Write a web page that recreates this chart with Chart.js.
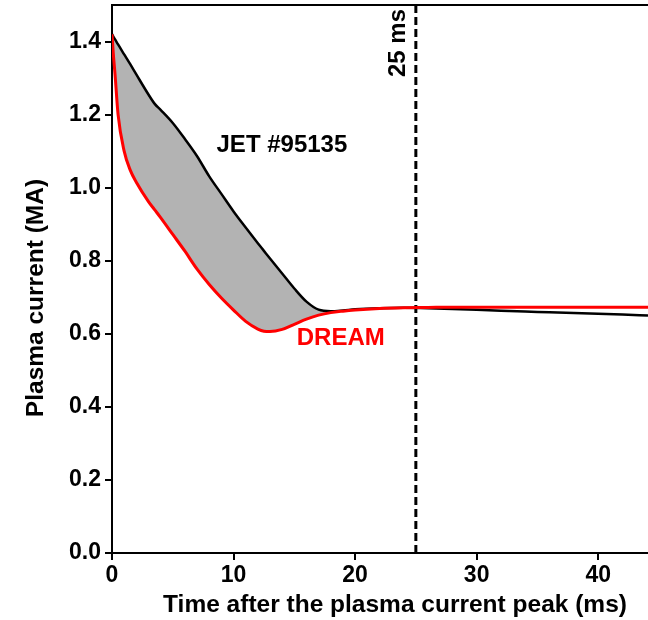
<!DOCTYPE html>
<html>
<head>
<meta charset="utf-8">
<script src="https://cdn.jsdelivr.net/npm/chart.js@4.4.1/dist/chart.umd.min.js"></script>
<style>
  html, body { margin: 0; padding: 0; background: #fff; }
  #wrap { width: 648px; height: 620px; }
</style>
</head>
<body>
<div id="wrap"><canvas id="plasma"></canvas></div>
<script>
// time after the current peak (ms)
const timeMs = [0, 0.1, 0.25, 0.5, 1, 1.5, 2, 3, 3.5, 4, 5, 6, 7, 8, 9, 10, 11, 12, 12.5, 13, 14, 15, 16, 17, 18, 19, 20, 22, 24, 26, 28, 30, 32, 34, 36, 38, 40, 42, 44.1];
// measured plasma current, JET #95135 (MA)
const jetCurrent = [1.42, 1.414, 1.406, 1.392, 1.365, 1.338, 1.31, 1.255, 1.23, 1.213, 1.177, 1.133, 1.086, 1.031, 0.983, 0.935, 0.891, 0.848, 0.827, 0.806, 0.765, 0.724, 0.688, 0.666, 0.662, 0.664, 0.667, 0.670, 0.671, 0.670, 0.668, 0.666, 0.663, 0.661, 0.659, 0.657, 0.655, 0.653, 0.650];
// DREAM simulation (MA)
const dreamCurrent = [1.42, 1.37, 1.31, 1.20, 1.10, 1.048, 1.015, 0.962, 0.94, 0.918, 0.872, 0.826, 0.777, 0.735, 0.698, 0.665, 0.634, 0.613, 0.607, 0.606, 0.612, 0.626, 0.640, 0.651, 0.658, 0.662, 0.665, 0.669, 0.671, 0.672, 0.673, 0.673, 0.673, 0.673, 0.673, 0.673, 0.673, 0.673, 0.673];
const markerTime = 25;
const xTicks = [0, 10, 20, 30, 40];
const yTicks = [0, 0.2, 0.4, 0.6, 0.8, 1.0, 1.2, 1.4];

const FONT = "'Liberation Sans', Arial, sans-serif";

const toPts = (ys) => timeMs.map((t, i) => ({ x: t, y: ys[i] }));

// text drawn onto the plot (positions in data units)
const notes = [
  { text: 'JET #95135', x: 8.6, y: 1.117, color: '#000', rot: false },
  { text: 'DREAM', x: 15.2, y: 0.588, color: '#ff0000', rot: false },
  { text: '25 ms', x: 23.6, y: 1.396, color: '#000', rot: true }
];

const decor = {
  id: 'decor',
  afterDraw(chart) {
    const { ctx, chartArea: a, scales: { x, y } } = chart;
    ctx.save();
    // top frame line
    ctx.strokeStyle = '#000';
    ctx.lineWidth = 2;
    ctx.beginPath();
    ctx.moveTo(a.left - 1, a.top);
    ctx.lineTo(a.right, a.top);
    ctx.stroke();

    ctx.textBaseline = 'middle';
    notes.forEach(n => {
      ctx.font = 'bold 24px ' + FONT;
      ctx.fillStyle = n.color;
      const px = x.getPixelForValue(n.x), py = y.getPixelForValue(n.y);
      if (n.rot) {
        ctx.save();
        ctx.translate(px, py);
        ctx.rotate(-Math.PI / 2);
        ctx.textAlign = 'center';
        ctx.fillText(n.text, 0, 0);
        ctx.restore();
      } else {
        ctx.textAlign = 'left';
        ctx.fillText(n.text, px, py);
      }
    });

    // axis titles
    ctx.fillStyle = '#000';
    ctx.font = 'bold 24.5px ' + FONT;
    ctx.textAlign = 'center';
    ctx.fillText('Time after the plasma current peak (ms)', 395, 605);
    ctx.save();
    ctx.translate(36, 298);
    ctx.rotate(-Math.PI / 2);
    ctx.fillText('Plasma current (MA)', 0, 0);
    ctx.restore();
    ctx.restore();
  }
};

new Chart(document.getElementById('plasma'), {
  type: 'line',
  data: {
    datasets: [
      { label: 'DREAM', data: toPts(dreamCurrent), borderColor: '#ff0000', borderWidth: 3, pointRadius: 0, cubicInterpolationMode: 'monotone', fill: false },
      { label: '25 ms', data: [{ x: markerTime, y: 0 }, { x: markerTime, y: 1.5 }], borderColor: '#000', borderWidth: 3, borderDash: [8, 4], pointRadius: 0, fill: false },
      { label: 'JET #95135', data: toPts(jetCurrent), borderColor: '#000', borderWidth: 2.5, pointRadius: 0, cubicInterpolationMode: 'monotone',
        fill: { target: 0, above: '#b3b3b3', below: 'rgba(0,0,0,0)' } }
    ]
  },
  options: {
    responsive: true,
    maintainAspectRatio: false,
    animation: false,
    events: [],
    layout: { padding: { top: 5, right: 0, left: 0, bottom: 0 } },
    plugins: { legend: { display: false }, tooltip: { enabled: false } },
    scales: {
      x: {
        type: 'linear', min: 0, max: 44.1,
        afterBuildTicks: s => { s.ticks = xTicks.map(v => ({ value: v })); },
        afterFit: s => { s.height = 67; s.paddingLeft = 0; s.paddingRight = 0; },
        border: { display: true, color: '#000', width: 2 },
        grid: { drawOnChartArea: false, drawTicks: true, tickLength: 7, color: '#000', lineWidth: 2 },
        ticks: { color: '#000', padding: 2, maxRotation: 0, font: { family: FONT, size: 23, weight: 'bold' } }
      },
      y: {
        type: 'linear', min: 0, max: 1.5,
        afterBuildTicks: s => { s.ticks = yTicks.map(v => ({ value: v })); },
        afterFit: s => { s.width = 112; s.paddingTop = 0; s.paddingBottom = 0; },
        border: { display: true, color: '#000', width: 2 },
        grid: { drawOnChartArea: false, drawTicks: true, tickLength: 7, color: '#000', lineWidth: 2 },
        ticks: { color: '#000', padding: 4, font: { family: FONT, size: 23, weight: 'bold' }, callback: v => v.toFixed(1) }
      }
    }
  },
  plugins: [decor]
});
</script>
</body>
</html>
